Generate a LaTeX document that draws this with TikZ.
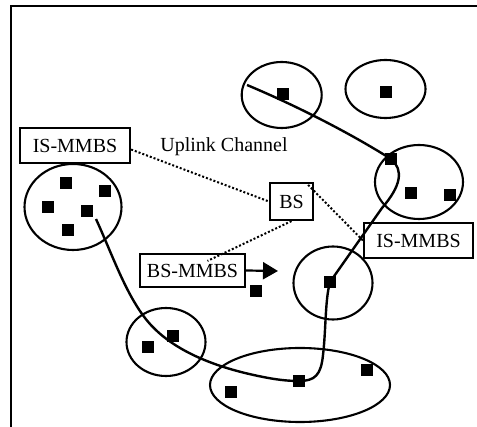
\documentclass[tikz,border=0pt]{standalone}
\usepackage{fontspec}
\setmainfont{Liberation Serif}
\usetikzlibrary{arrows.meta}
\begin{document}
\begin{tikzpicture}[x=1pt,y=-1pt,
  cell/.style={draw=black,line width=2.1pt},
  dev/.style={fill=black,draw=none,minimum size=11.5pt,inner sep=0pt},
  lbox/.style={draw=black,line width=2.2pt,inner sep=0pt,font=\fontsize{20}{24}\selectfont},
  route/.style={line width=2.4pt},
  link/.style={line width=2pt,dash pattern=on 2pt off 2pt},
  lbl/.style={font=\fontsize{20}{24}\selectfont,inner sep=0pt}]
\useasboundingbox (0,0) rectangle (477,427);
% frame
\draw[line width=2.6pt] (11,427) -- (11,6) -- (477,6);
% cells
\draw[cell] (281.7,95) ellipse [x radius=40pt, y radius=33pt];
\draw[cell] (385.5,89) ellipse [x radius=40pt, y radius=29pt];
\draw[cell] (419,182) ellipse [x radius=44pt, y radius=37pt];
\draw[cell] (73,207) ellipse [x radius=48.5pt, y radius=43pt];
\draw[cell] (333,283) ellipse [x radius=39.5pt, y radius=36.5pt];
\draw[cell] (166,342) ellipse [x radius=39.5pt, y radius=34pt];
\draw[cell] (300,385) ellipse [x radius=90pt, y radius=37pt];
% devices
\node[dev] (d1) at (283,94) {};
\node[dev] (d2) at (386,92) {};
\node[dev] (d3) at (391,159) {};
\node[dev] (d4) at (411,193) {};
\node[dev] (d5) at (450,195) {};
\node[dev] (d6) at (66,183) {};
\node[dev] (d7) at (105,191) {};
\node[dev] (d8) at (48,207) {};
\node[dev] (d9) at (87,211) {};
\node[dev] (d10) at (68,230) {};
\node[dev] (d11) at (256,291) {};
\node[dev] (d12) at (330,282) {};
\node[dev] (d13) at (148,347) {};
\node[dev] (d14) at (173,336) {};
\node[dev] (d15) at (231,392) {};
\node[dev] (d16) at (299,381) {};
\node[dev] (d17) at (367,370) {};
% labelled boxes
\node[lbox,minimum width=110pt,minimum height=35pt] (isl) at (75,145.5) {IS-MMBS};
\node[lbox,minimum width=43pt,minimum height=37pt] (bs) at (291.5,201.5) {BS};
\node[lbox,minimum width=109pt,minimum height=35pt] (isr) at (418.5,240.5) {IS-MMBS};
\node[lbox,minimum width=105pt,minimum height=33pt] (bsm) at (192.5,270.5) {BS-MMBS};
\node[lbl] (up) at (224,147) {Uplink Channel};
% free ends
\coordinate (s1) at (247,85);
\coordinate (s4) at (96,219);
% routes
\draw[route] (s1) .. controls (290,103) and (345,130) .. (d3.center);
\draw[route] (d3.center) .. controls (404,170) and (401,186) .. (382,208) -- (d12.center);
\draw[route] (d12.center) .. controls (325,300) and (326,330) .. (323,355) .. controls (321,375) and (315,381) .. (d16.center);
\draw[route] (s4) .. controls (112,254) and (125,292) .. (145,318) .. controls (165,344) and (200,362) .. (245,373) .. controls (270,379) and (285,381) .. (d16.center);
% uplink channels
\draw[link] ([yshift=-4pt]isl.east) -- (bs.west);
\draw[link] ([xshift=-6pt,yshift=-3pt]bs.north east) -- (isr.west);
\draw[link] (bs.south) -- ([xshift=15pt,yshift=-8pt]bsm.north);
% arrow
\coordinate (tip) at (278,271);
\draw[line width=2.2pt,-{Triangle[length=15pt,width=17pt]}] (bsm.east) -- (tip);
\end{tikzpicture}
\end{document}
